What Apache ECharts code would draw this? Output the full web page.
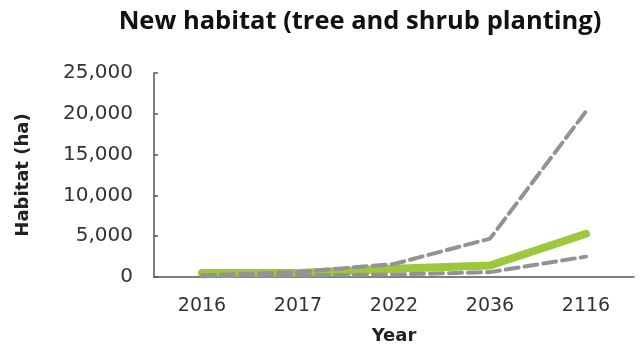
<!DOCTYPE html>
<html><head><meta charset="utf-8">
<script src="https://cdn.jsdelivr.net/npm/echarts@6/dist/echarts.min.js"></script>
<style>html,body{margin:0;padding:0;background:#fff}#c{width:642px;height:347px}</style>
</head><body><div id="c"></div>
<script>
const categories = ['2016', '2017', '2022', '2036', '2116'];
const central = [500, 500, 1000, 1400, 5300];
const upper = [200, 600, 1600, 4700, 20300];
const lower = [100, 200, 300, 600, 2500];
const yTicks = [0, 5000, 10000, 15000, 20000, 25000];

const chart = echarts.init(document.getElementById('c'));
const axisCol = '#555';
const dashed = (name, data) => ({
  name, type: 'line', data, symbol: 'none', z: 3,
  lineStyle: { color: '#939393', width: 4, type: [13, 6], cap: 'round' }
});
chart.setOption({
  animation: false,
  title: {
    text: 'New habitat (tree and shrub planting)',
    left: 355, top: 4, textAlign: 'center',
    textStyle: { fontFamily: 'Open Sans', fontWeight: 'bold', fontSize: 25.5, color: '#111' }
  },
  grid: { left: 154, right: 8, top: 73, bottom: 70, outerBoundsMode: 'none', containLabel: false },
  xAxis: {
    type: 'category', data: categories, boundaryGap: true,
    name: 'Year', nameLocation: 'middle', nameGap: 50,
    nameTextStyle: { fontFamily: 'DejaVu Sans', fontWeight: 'bold', fontSize: 18, color: '#222' },
    axisLine: { lineStyle: { color: axisCol, width: 1.5 } },
    axisTick: { alignWithLabel: true, inside: true, length: 5, lineStyle: { color: '#222', width: 1.5 } },
    axisLabel: { fontFamily: 'DejaVu Sans', fontSize: 19, color: '#333', margin: 20 }
  },
  yAxis: {
    type: 'value', min: 0, max: 25000, interval: 5000,
    name: 'Habitat (ha)', nameLocation: 'middle', nameGap: 122, nameRotate: 90,
    nameTextStyle: { fontFamily: 'DejaVu Sans', fontWeight: 'bold', fontSize: 18, color: '#222' },
    axisLine: { show: true, lineStyle: { color: axisCol, width: 1.5 } },
    axisTick: { show: true, inside: true, length: 4, lineStyle: { color: axisCol, width: 1.5 } },
    splitLine: { show: false },
    axisLabel: {
      fontFamily: 'DejaVu Sans', fontSize: 20, color: '#333', margin: 21,
      formatter: v => yTicks.includes(v) ? v.toLocaleString('en-US') : ''
    }
  },
  series: [
    { name: 'Central', type: 'line', data: central, symbol: 'none', z: 2,
      lineStyle: { color: '#9dc83c', width: 8, cap: 'round', join: 'round' } },
    dashed('Upper', upper),
    dashed('Lower', lower)
  ]
});
</script></body></html>
